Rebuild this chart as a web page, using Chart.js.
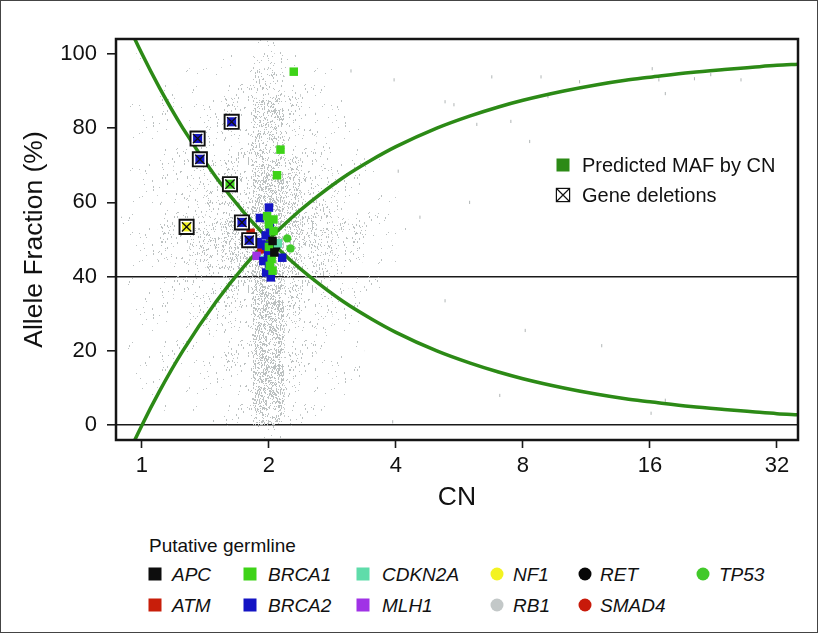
<!DOCTYPE html>
<html>
<head>
<meta charset="utf-8">
<script src="https://cdn.jsdelivr.net/npm/chart.js@4.4.0/dist/chart.umd.min.js"></script>
<style>
  body { margin: 0; background: #fff; font-family: 'Liberation Sans', Arial, sans-serif; color: #111; }
  #wrap { position: relative; width: 819px; height: 634px; overflow: hidden; }
  #border { position: absolute; left: 0; top: 0; width: 818px; height: 633px; box-sizing: border-box; border: 1.5px solid #444; pointer-events: none; }
  canvas { position: absolute; left: 0; top: 0; }
  .lab { position: absolute; white-space: nowrap; line-height: 1; transform: translateY(-50%); }
  .mk { position: absolute; width: 13px; height: 13px; transform: translate(-50%, -50%); }
  .gene { font-style: italic; font-size: 19px; }
</style>
</head>
<body>
<div id="wrap">
  <canvas id="chart" width="819" height="520"></canvas>
  <div id="legends"></div>
  <div id="border"></div>
</div>
<script>
// axis ticks
const xTicks = [1, 2, 4, 8, 16, 32];
const yTicks = [0, 20, 40, 60, 80, 100];
const refLines = [0, 40];

// predicted MAF curves
const curveCN = [0.85, 0.9, 1, 1.1, 1.25, 1.5, 1.75, 2, 2.25, 2.5, 3, 3.5, 4, 5, 6, 7, 8, 10, 12, 14, 16, 20, 24, 28, 32, 36];
const mafDown = [117.6, 111.1, 100, 90.9, 80, 66.7, 57.1, 50, 44.4, 40, 33.3, 28.6, 25, 20, 16.7, 14.3, 12.5, 10, 8.3, 7.1, 6.3, 5, 4.2, 3.6, 3.1, 2.8];
const mafUp = [-17.6, -11.1, 0, 9.1, 20, 33.3, 42.9, 50, 55.6, 60, 66.7, 71.4, 75, 80, 83.3, 85.7, 87.5, 90, 91.7, 92.9, 93.7, 95, 95.8, 96.4, 96.9, 97.2];

// background cloud of all variants, as a density map (0 = empty .. 5 = densest)
const cloudCN = [0.878, 0.958, 1.044, 1.139, 1.242, 1.354, 1.477, 1.610, 1.756, 1.915, 2.088, 2.277, 2.484, 2.709, 2.954, 3.221, 3.513, 3.830, 4.177];
const cloudAF = [102, 98, 94, 90, 86, 82, 78, 74, 70, 66, 62, 58, 54, 50, 46, 42, 38, 34, 30, 26, 22, 18, 14, 10, 6, 2, -2];
const cloudRows = [
  '0000000001100000000',
  '0100000112210000000',
  '0000111113311100000',
  '0001011123321110000',
  '0101111224421110000',
  '0011112224422110000',
  '0111122224422111000',
  '0011122234422211000',
  '0111222234432211100',
  '0011222335543221100',
  '0111223335543221110',
  '0112223345543321110',
  '1112233445544332111',
  '0112233445544322110',
  '0112233445543322110',
  '0111223345543321100',
  '0111222335533221100',
  '0011122235532211000',
  '0111122225532211100',
  '0011112225522211000',
  '0101111225522111000',
  '0011111225522110000',
  '0101111125522111000',
  '0010111125521110000',
  '0001011125521100000',
  '0000001114411000000',
  '0000000001100000000'
];
// scattered single variants far from the cloud
const strayCN = [6.75, 8.83, 10.9, 16.2, 16.8, 17.4, 20.4, 22.3, 26.3, 3.96, 3.13, 5.23, 5.49, 7.49, 6.22, 9.17, 3.93, 16.1, 5.23, 8.1, 12.3, 7.05, 17.4, 5.98, 4.56, 4.05, 8.3];
const strayAF = [93.8, 93.8, 92.5, 96, 93, 89.3, 93.3, 94.4, 93, 93, 95.4, 87.1, 86.3, 81.8, 81, 88.5, 0.9, 3.2, 33.5, 25.5, 21.4, 8, 6.7, 60, 56, 68.4, 76.4];

// putative germline genes
const geneNames = ['APC', 'ATM', 'BRCA1', 'BRCA2', 'CDKN2A', 'MLH1', 'NF1', 'RB1', 'RET', 'SMAD4', 'TP53'];
const geneColors = ['#0d0d0d', '#c81e0a', '#3ed318', '#1414c4', '#5fdcaa', '#a032e6', '#f3f321', '#c3c8c8', '#080808', '#c81a0a', '#42c92a'];
const geneShapes = ['rect', 'rect', 'rect', 'rect', 'rect', 'rect', 'circle', 'circle', 'circle', 'circle', 'circle'];

const germGene = ['BRCA1', 'BRCA1', 'BRCA1', 'BRCA1', 'BRCA1', 'BRCA1', 'BRCA1', 'BRCA1', 'BRCA1', 'BRCA1', 'BRCA1',
  'BRCA2', 'BRCA2', 'BRCA2', 'BRCA2', 'BRCA2', 'BRCA2', 'BRCA2', 'BRCA2', 'BRCA2', 'BRCA2', 'BRCA2', 'BRCA2', 'BRCA2',
  'APC', 'APC', 'ATM', 'CDKN2A', 'CDKN2A', 'MLH1', 'RET', 'SMAD4', 'TP53', 'TP53'];
const germCN = [2.29, 2.13, 2.09, 1.98, 2.05, 2.0, 2.05, 2.03, 2.01, 2.04, 2.0,
  2.0, 1.905, 2.01, 1.965, 1.92, 1.97, 2.15, 1.94, 2.0, 1.97, 2.02, 1.88, 1.99,
  2.04, 2.06, 1.81, 2.1, 1.95, 1.87, 2.08, 1.92, 2.21, 2.25];
const germAF = [95.2, 74.2, 67.3, 56.3, 55.4, 54.1, 52.3, 44.7, 42.9, 41.6, 48.0,
  58.6, 55.8, 53.2, 51.1, 48.7, 48.3, 45.1, 44.2, 43.5, 41.1, 39.8, 49.3, 46.0,
  49.6, 46.5, 51.8, 49.0, 44.5, 45.6, 47.9, 47.3, 50.3, 47.6];

// gene deletions
const delGene = ['BRCA2', 'BRCA2', 'BRCA2', 'BRCA1', 'NF1', 'BRCA2', 'BRCA2'];
const delCN = [1.632, 1.355, 1.372, 1.617, 1.276, 1.726, 1.796];
const delAF = [81.7, 77.2, 71.6, 64.9, 53.4, 54.6, 49.8];

const canvas = document.getElementById('chart');
const mainCtx = canvas.getContext('2d');

// speckle fills for the density levels (fixed hash, texture only)
function hash(n) {
  n = Math.imul((n >>> 16) ^ n, 0x45d9f3b);
  n = Math.imul((n >>> 16) ^ n, 0x45d9f3b);
  return ((n >>> 16) ^ n) >>> 0;
}
const speckleCounts = [0, 55, 170, 400, 780, 1300];
const speckles = speckleCounts.map(n => {
  const t = document.createElement('canvas');
  t.width = 64; t.height = 64;
  const g = t.getContext('2d');
  g.fillStyle = '#bcc1c1';
  for (let j = 0; j < n; j++) {
    const h = hash(j + 1);
    g.fillRect(h & 63, (h >>> 6) & 63, 1, (h >>> 12) % 3 === 0 ? 2 : 1);
  }
  return mainCtx.createPattern(t, 'repeat');
});

const cloudPts = [];
cloudAF.forEach((af, r) => {
  cloudRows[r].split('').forEach((ch, c) => {
    if (+ch > 0) cloudPts.push({ x: cloudCN[c], y: af, lvl: +ch });
  });
});

const cellRadius = ctx => {
  const xs = ctx.chart.scales.x;
  return (xs.getPixelForValue(Math.pow(2, 1 / 8)) - xs.getPixelForValue(1)) / Math.SQRT2;
};

const curveGreen = '#2c8a16';
const datasets = [];

datasets.push({
  data: cloudPts, order: 10, clip: 0,
  pointStyle: 'rect', pointRadius: cellRadius, borderWidth: 0,
  backgroundColor: ctx => speckles[ctx.raw ? ctx.raw.lvl : 0]
});
datasets.push({
  data: strayCN.map((v, i) => ({ x: v, y: strayAF[i] })), order: 9,
  pointStyle: 'line', rotation: 90, pointRadius: 1.6, borderWidth: 1, borderColor: '#b0b5b5'
});
[mafDown, mafUp].forEach(arr => {
  datasets.push({
    data: curveCN.map((v, i) => ({ x: v, y: arr[i] })), order: 8, clip: 0,
    showLine: true, pointRadius: 0, borderColor: curveGreen, borderWidth: 3.5,
    cubicInterpolationMode: 'monotone'
  });
});
geneNames.forEach((g, k) => {
  const pts = [];
  germGene.forEach((gg, i) => { if (gg === g) pts.push({ x: germCN[i], y: germAF[i] }); });
  if (!pts.length) return;
  datasets.push({
    data: pts, order: 5,
    pointStyle: geneShapes[k], pointRadius: geneShapes[k] === 'rect' ? 6 : 4.2,
    backgroundColor: geneColors[k], borderWidth: 0
  });
});
const delPts = delCN.map((v, i) => ({ x: v, y: delAF[i] }));
datasets.push({
  data: delPts, order: 4, pointStyle: 'rect', pointRadius: 10,
  backgroundColor: '#fff', borderColor: '#111', borderWidth: 1.9
});
datasets.push({
  data: delPts, order: 3, pointStyle: 'rect', pointRadius: 6.4, borderWidth: 0,
  backgroundColor: delGene.map(g => geneColors[geneNames.indexOf(g)])
});
datasets.push({
  data: delPts, order: 2, pointStyle: 'crossRot', pointRadius: 6.6,
  borderColor: '#111', borderWidth: 1.3
});

const framePlugin = {
  id: 'frame',
  afterDatasetsDraw(chart) {
    const { ctx, chartArea: a } = chart;
    ctx.save();
    ctx.strokeStyle = '#151515';
    ctx.lineWidth = 2.5;
    ctx.strokeRect(a.left, a.top, a.right - a.left, a.bottom - a.top);
    ctx.restore();
  }
};

const tickFont = { family: "'Liberation Sans', Arial, sans-serif", size: 22 };
const titleFont = { family: "'Liberation Sans', Arial, sans-serif", size: 26.5 };

new Chart(canvas, {
  type: 'scatter',
  data: { datasets },
  options: {
    responsive: false,
    animation: false,
    events: [],
    layout: { padding: { top: 39, right: 21, left: 0, bottom: 0 } },
    plugins: { legend: { display: false }, tooltip: { enabled: false } },
    scales: {
      x: {
        type: 'logarithmic', min: 0.868, max: 35.9, bounds: 'data',
        afterBuildTicks: s => { s.ticks = xTicks.map(v => ({ value: v })); },
        afterFit: s => { s.height = 80; },
        ticks: { callback: v => String(v), font: tickFont, color: '#111', padding: 5, maxRotation: 0, autoSkip: false },
        grid: { drawOnChartArea: false, tickLength: 8, tickColor: '#1a1a1a', tickWidth: 1.6, color: '#1a1a1a' },
        border: { display: false },
        title: { display: true, text: 'CN', font: titleFont, color: '#111', padding: { top: 0, bottom: 6 } }
      },
      y: {
        min: -4, max: 104,
        afterBuildTicks: s => { s.ticks = yTicks.map(v => ({ value: v })); },
        afterFit: s => { s.width = 116; },
        ticks: { font: tickFont, color: '#111', padding: 10 },
        grid: {
          color: c => (c.tick && refLines.includes(c.tick.value)) ? '#1a1a1a' : 'rgba(0,0,0,0)',
          lineWidth: 1.6, tickLength: 9, tickColor: '#1a1a1a', tickWidth: 1.6
        },
        border: { display: false },
        title: { display: true, text: 'Allele Fraction (%)', font: titleFont, color: '#111', padding: { top: 19, bottom: 0 } }
      }
    }
  },
  plugins: [framePlugin]
});

// legends (html)
const box = document.getElementById('legends');
function add(html) { box.insertAdjacentHTML('beforeend', html); }

add(`<div class="mk" style="left:563px;top:165px;background:${curveGreen}"></div>`);
add(`<div class="lab" style="left:582px;top:165px;font-size:20px">Predicted MAF by CN</div>`);
add(`<svg class="mk" style="left:563px;top:195px;width:15px;height:15px" viewBox="0 0 15 15">
  <rect x="0.8" y="0.8" width="13.4" height="13.4" fill="#fff" stroke="#111" stroke-width="1.4"/>
  <path d="M1 1L14 14M14 1L1 14" stroke="#111" stroke-width="1.2"/></svg>`);
add(`<div class="lab" style="left:582px;top:195px;font-size:20px">Gene deletions</div>`);

add(`<div class="lab" style="left:149px;top:545px;font-size:19px">Putative germline</div>`);
const legMarkX = [155, 250, 363, 497, 585, 703];
const legTextX = [172, 268, 382, 513, 600, 719];
const legRowY = [574, 605];
geneNames.forEach((g, k) => {
  const col = Math.floor(k / 2), row = k % 2;
  const radius = geneShapes[k] === 'circle' ? 'border-radius:50%;' : '';
  add(`<div class="mk" style="left:${legMarkX[col]}px;top:${legRowY[row]}px;background:${geneColors[k]};${radius}"></div>`);
  add(`<div class="lab gene" style="left:${legTextX[col]}px;top:${legRowY[row]}px">${g}</div>`);
});
</script>
</body>
</html>
